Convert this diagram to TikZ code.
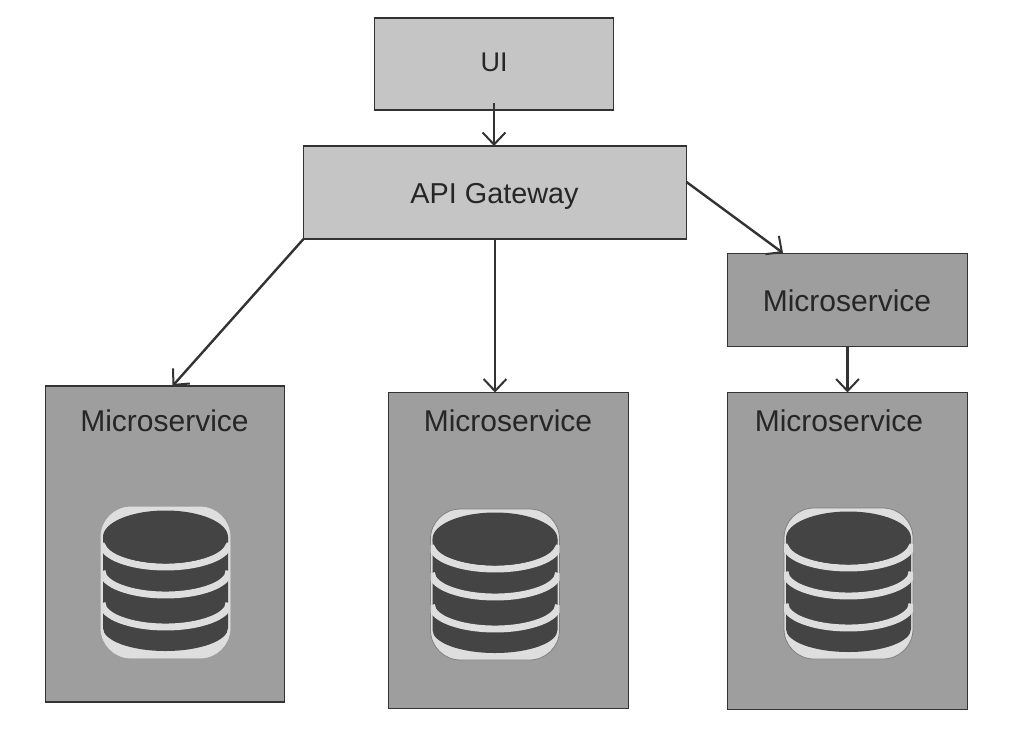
\documentclass[tikz,border=0pt]{standalone}
\usepackage{fontspec}
\setmainfont{Liberation Sans}
\usetikzlibrary{calc,arrows.meta}
\definecolor{lightbox}{HTML}{C5C5C5}
\definecolor{darkbox}{HTML}{9E9E9E}
\definecolor{edgecol}{HTML}{333333}
\definecolor{dbdark}{HTML}{444444}
\definecolor{halo}{HTML}{DEDEDE}
\tikzset{
  x=0.75pt,y=-0.75pt,
  box/.style={draw=edgecol,line width=1.4pt,inner sep=0pt,outer sep=0pt,anchor=north west},
  lightnode/.style={box,fill=lightbox},
  darknode/.style={box,fill=darkbox},
  label text/.style={font=\fontsize{22.5}{26}\selectfont,text=black!85,inner sep=0pt},
  link/.style={draw=edgecol,line width=1.8pt,-{Straight Barb[length=9pt,width=17pt,line width=1.5pt]}},
  haloshape/.style={fill=halo,rounded corners=22.5pt},
  whiteband/.style={draw=halo,line width=5.2pt},
  pics/dbicon/.style={code={
    \path[haloshape,draw=#1,line width=0.6pt] (-64,-30) rectangle (65,121);
    \begin{scope}
      \clip (-64,-30) rectangle (65,121);
      \fill[dbdark] (-62,0) -- (-62,91) arc[start angle=180,end angle=0,x radius=62.5,y radius=23] -- (63,0) -- cycle;
      \draw[whiteband] (-63,6) arc[start angle=180,end angle=0,x radius=63.5,y radius=24];
      \draw[whiteband] (-63,34) arc[start angle=180,end angle=0,x radius=63.5,y radius=24];
      \draw[whiteband] (-63,66) arc[start angle=180,end angle=0,x radius=63.5,y radius=24];
    \end{scope}
    \fill[dbdark] (0.5,0) ellipse[x radius=62.5,y radius=26.5];
  }}
}
\begin{document}
\begin{tikzpicture}
\useasboundingbox[fill=white] (0,0) rectangle (1016,746);
\node[lightnode,minimum width=179.25pt,minimum height=69pt] (ui) at (374.5,18) {};
\node[lightnode,minimum width=287.25pt,minimum height=69.75pt] (api) at (303.5,146) {};
\node[darknode,minimum width=180pt,minimum height=69.75pt] (small) at (727.5,253.5) {};
\node[darknode,minimum width=179.25pt,minimum height=237pt] (ms1) at (45.5,386) {};
\node[darknode,minimum width=180pt,minimum height=237pt] (ms2) at (388.5,392.5) {};
\node[darknode,minimum width=180pt,minimum height=237.75pt] (ms3) at (727.5,392.5) {};
\node[label text,scale=0.9] (uit) at (494,62) {UI};
\node[label text,scale=0.96] (apit) at (494.5,196) {API Gateway};
\node[label text] (smallt) at (847,301) {Microservice};
\node[label text] (ms1t) at (164.5,421) {Microservice};
\node[label text] (ms2t) at (508,421) {Microservice};
\node[label text] (ms3t) at (839,421) {Microservice};
\pic at (165,537) {dbicon=halo};
\pic at (494.5,539) {dbicon=gray};
\pic at (848,538) {dbicon=gray};
\coordinate (a1) at ($(ui.south)+(0,-7)$);
\coordinate (a2) at ($(ms1.north)+(7.5,0)$);
\coordinate (a3) at ($(api.east)+(0,-10.5)$);
\coordinate (a4) at (783,253);
\draw[link] (a1) -- (a1 |- api.north);
\draw[link] (api.south west) -- (a2);
\draw[link] (api.south) -- (api.south |- ms2.north);
\draw[link] (a3) -- (a4);
\draw[link] (small.south) -- (ms3.north -| small.south);
\end{tikzpicture}
\end{document}
